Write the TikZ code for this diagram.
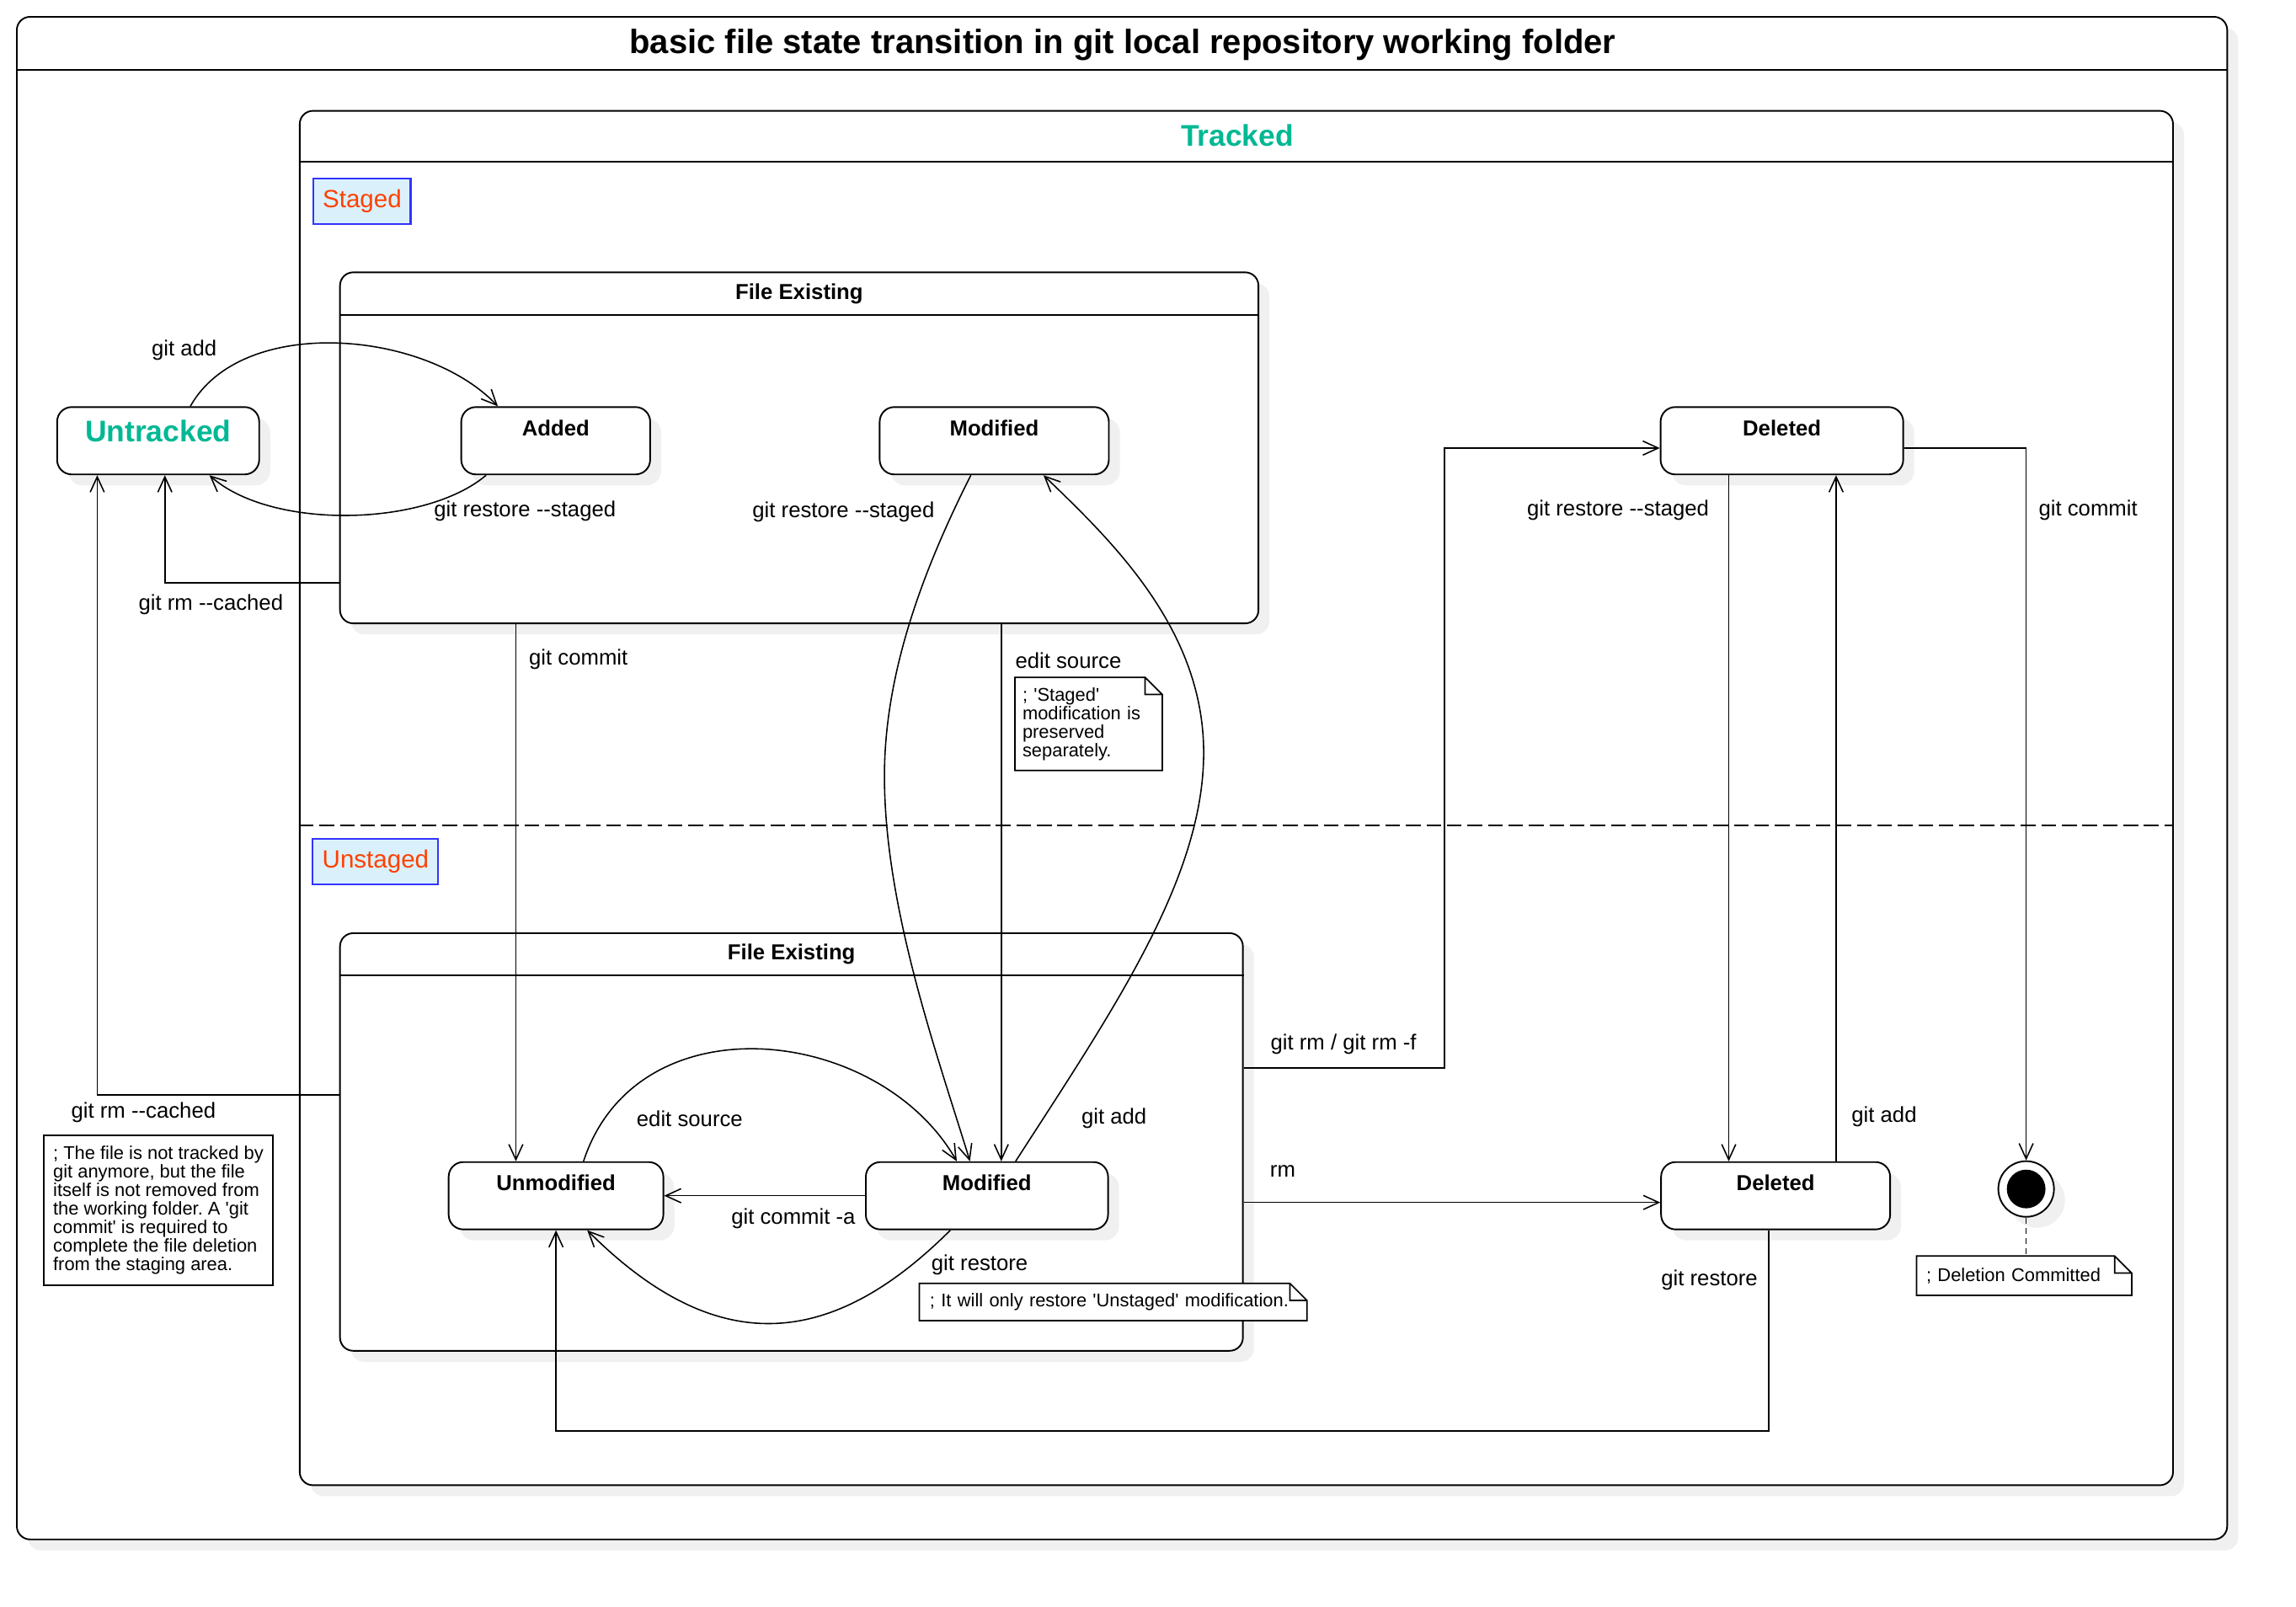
\documentclass[tikz,border=0pt]{standalone}
\usepackage{fontspec}
\newfontfamily\gitfont{Liberation Sans}
\usepackage{tikz}
\usetikzlibrary{arrows.meta, shadows, positioning}
\definecolor{trackteal}{RGB}{0,184,148}
\definecolor{stagered}{RGB}{255,64,0}
\definecolor{stageblue}{RGB}{51,51,255}
\definecolor{stagefill}{RGB}{218,241,252}
\definecolor{shadowgray}{RGB}{240,240,240}
\newcommand{\foldnote}[1]{%
  \draw[line width=1pt] (#1.north west) -- ([xshift=-11.7pt]#1.north east)
    -- ([yshift=-11.7pt]#1.north east) -- (#1.south east) -- (#1.south west) -- cycle
    ([xshift=-11.7pt]#1.north east) |- ([yshift=-11.7pt]#1.north east);}

\begin{document}
\frenchspacing
\begin{tikzpicture}[x=1pt, y=-1pt,
    boxshadow/.style={drop shadow={shadow xshift=7.5pt, shadow yshift=-7.5pt, fill=shadowgray, opacity=1}},
    container/.style={draw, line width=1.1pt, rounded corners=9pt, fill=white, boxshadow, inner sep=0pt},
    statebox/.style={draw, line width=1.1pt, rounded corners=10pt, fill=white, boxshadow,
      minimum height=46, inner xsep=4, inner ysep=6, text height=13.6, text depth=20.4,
      font=\gitfont\bfseries\fontsize{14.8}{17}\selectfont},
    regionlabel/.style={draw=stageblue, line width=1.2pt, fill=stagefill, text=stagered,
      minimum height=31.2, inner sep=0pt, font=\gitfont\fontsize{17}{20}\selectfont},
    notebox/.style={fill=white, inner ysep=0pt, align=left, font=\gitfont\fontsize{12.6}{12.6}\selectfont},
    trans/.style={line width=0.9pt, -{Straight Barb[length=10.5pt, width=9.6pt]}},
    lbl/.style={inner sep=0pt, font=\gitfont\fontsize{14.8}{17}\selectfont},
    headline/.style={line width=1.1pt},
  ]
  \path[use as bounding box, fill=white] (0,0) rectangle (1568,1097.4);

  % outer frame and title
  \node[container, minimum width=1509.5, minimum height=1039.8] (board) at (766.25,531.4) {};
  \draw[headline] (board.west |- 0,47.9) -- (board.east |- 0,47.9);
  \node[inner sep=0pt, font=\gitfont\bfseries\fontsize{23}{27}\selectfont] (title) at (766.7,30.6)
    {basic file state transition in git local repository working folder};

  % tracked region
  \node[container, minimum width=1279.3, minimum height=938.6] (tracked) at (844.35,545) {};
  \draw[headline] (tracked.west |- 0,110.3) -- (tracked.east |- 0,110.3);
  \node[inner sep=0pt, text=trackteal, font=\gitfont\bfseries\fontsize{20.4}{24}\selectfont] (trackedTitle) at (845,92.5) {Tracked};
  \node[regionlabel, minimum width=66.2] (staged) at (247.3,137.4) {Staged};
  \draw[line width=1.1pt, dash pattern=on 10pt off 4pt] (tracked.west |- 0,563.7) -- (tracked.east |- 0,563.7);
  \node[regionlabel, minimum width=85.7] (unstaged) at (256.5,588.4) {Unstaged};

  % file existing blocks
  \node[container, minimum width=627.2, minimum height=239.7] (stagedFE) at (545.8,305.85) {};
  \draw[headline] (stagedFE.west |- 0,215) -- (stagedFE.east |- 0,215);
  \node[inner sep=0pt, font=\gitfont\bfseries\fontsize{14.8}{17}\selectfont] (stagedFETitle) at (545.8,200.5) {File Existing};
  \node[container, minimum width=616.6, minimum height=285.2] (unstagedFE) at (540.5,779.9) {};
  \draw[headline] (unstagedFE.west |- 0,665.9) -- (unstagedFE.east |- 0,665.9);
  \node[inner sep=0pt, font=\gitfont\bfseries\fontsize{14.8}{17}\selectfont] (unstagedFETitle) at (540.5,651.6) {File Existing};

  % states
  \node[statebox, minimum width=138, text height=17.8, text depth=16.2, text=trackteal,
    font=\gitfont\bfseries\fontsize{20.4}{24}\selectfont] (untracked) at (108,301) {Untracked};
  \node[statebox, minimum width=129] (added) at (379.5,301) {Added};
  \node[statebox, minimum width=156.5] (modS) at (679,301) {Modified};
  \node[statebox, minimum width=165.7] (delS) at (1216.9,301) {Deleted};
  \node[statebox, minimum width=146.6] (unmod) at (379.7,816.6) {Unmodified};
  \node[statebox, minimum width=165.4] (modU) at (674,816.6) {Modified};
  \node[statebox, minimum width=156.4] (delU) at (1212.6,816.6) {Deleted};
  \node[circle, draw, line width=1.1pt, fill=white, boxshadow, minimum size=38, inner sep=0pt] (final) at (1383.7,812) {};
  \node[circle, fill=black, minimum size=26.4, inner sep=0pt] (finalDot) at (final.center) {};

  % transitions
  \draw[trans] ([xshift=22]untracked.north) .. controls (165,215) and (290,225) .. ([xshift=-39.5]added.north);
  \draw[trans] ([xshift=-47.5]added.south) .. controls (290,360) and (185,362) .. ([xshift=35]untracked.south);
  \draw[trans] (stagedFE.west |- 0,397.9) -| ([xshift=4.6]untracked.south);
  \draw[trans] (unstagedFE.west |- 0,747.6) -| ([xshift=-41.6]untracked.south);
  \draw[trans] (stagedFE.south -| 352.3,0) -- (unmod.north -| 352.3,0);
  \draw[trans] (stagedFE.south -| 683.8,0) -- (modU.north -| 683.8,0);
  \draw[trans] ([xshift=-16]modS.south) .. controls (630,390) and (604,460) .. (604,530)
    .. controls (604,620) and (640,720) .. ([xshift=-11.6]modU.north);
  \draw[trans] ([xshift=19.6]modU.north) .. controls (760,690) and (822,600) .. (822,514)
    .. controls (822,430) and (760,370) .. ([xshift=33.6]modS.south);
  \draw[trans] ([xshift=18.8]unmod.north) .. controls (435,682) and (600,700) .. ([xshift=-20.6]modU.north);
  \draw[trans] ([xshift=-25]modU.south) .. controls (564,925) and (486,925) .. ([xshift=21.3]unmod.south);
  \draw[trans] (modU.west) -- (unmod.east);
  \draw[trans] (unstagedFE.east |- 0,729.2) -- (986.5,729.2) |- ([yshift=-5]delS.west);
  \draw[trans] (unstagedFE.east |- 0,821.2) -- (delU.west |- 0,821.2);
  \draw[trans] (delS.south -| 1180.6,0) -- (delU.north -| 1180.6,0);
  \draw[trans] (delU.north -| 1253.9,0) -- (delS.south -| 1253.9,0);
  \draw[trans] ([yshift=-5]delS.east) -| (final.north);
  \draw[trans] (delU.south -| 1208,0) -- (1208,977.3) -| (unmod.south);

  % transition labels
  \node[lbl] (lAdd) at (125.8,239.3) {git add};
  \node[lbl] (lRestoreAdded) at (358.5,349) {git restore --staged};
  \node[lbl] (lRestoreMod) at (576,349.8) {git restore --staged};
  \node[lbl] (lRmCachedS) at (144,413) {git rm --cached};
  \node[lbl] (lCommit) at (395,450.5) {git commit};
  \node[lbl] (lEdit) at (729.6,451) {edit source};
  \node[lbl] (lRestoreDelS) at (1105,348.6) {git restore --staged};
  \node[lbl] (lCommitDel) at (1426,348.6) {git commit};
  \node[lbl] (lRm) at (917.5,713) {git rm / git rm -f};
  \node[lbl] (lRmCachedU) at (98,760) {git rm --cached};
  \node[lbl] (lEditLoop) at (471,764) {edit source};
  \node[lbl] (lAddMod) at (760.8,764) {git add};
  \node[lbl] (lAddDel) at (1286.7,762.7) {git add};
  \node[lbl] (lRmU) at (876,799.6) {rm};
  \node[lbl] (lCommitA) at (541.8,832.1) {git commit -a};
  \node[lbl] (lRestoreU) at (669,863.8) {git restore};
  \node[lbl] (lRestoreDelU) at (1167.4,874) {git restore};

  % notes
  \node[notebox, inner xsep=5, text width=90.2, minimum height=63.2] (stagedNote) at (743.4,494.4)
    {; 'Staged'\\modification is\\preserved\\separately.};
  \foldnote{stagedNote}
  \node[notebox, draw, line width=1pt, inner xsep=0pt, minimum width=156.8, minimum height=102.6] (untrackNote) at (108.1,826.5)
    {; The file is not tracked by\\git anymore, but the file\\itself is not removed from\\the working folder. A 'git\\commit' is required to\\complete the file deletion\\from the staging area.};
  \node[notebox, inner xsep=7, text width=250.4, minimum height=25.1] (restoreNote) at (760.2,889.2)
    {; It will only restore 'Unstaged' modification.};
  \foldnote{restoreNote}
  \node[notebox, inner xsep=6.5, text width=133.6, minimum height=26.5] (deletionNote) at (1382.3,871.2)
    {; Deletion Committed};
  \foldnote{deletionNote}
  \draw[line width=0.9pt, dash pattern=on 4pt off 3pt] (final.south) -- (final.south |- deletionNote.north);
\end{tikzpicture}
\end{document}
